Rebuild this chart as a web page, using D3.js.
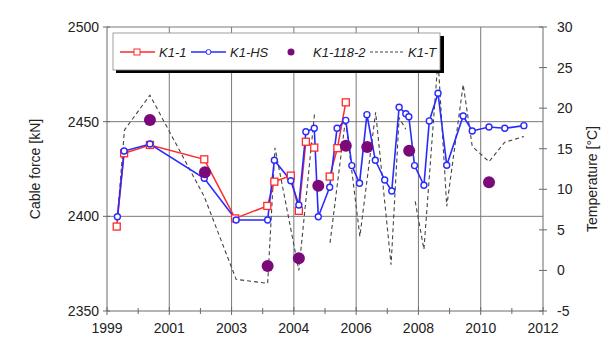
<!DOCTYPE html>
<html lang="en">
<head>
<meta charset="UTF-8" />
<title>Cable force and temperature</title>
<script src="https://d3js.org/d3.v7.min.js"></script>
<style>
  body { margin: 0; background: #fff; font-family: 'Liberation Sans', Arial, sans-serif; }
  svg text { fill: #222; }
</style>
</head>
<body>
<svg width="601" height="340"></svg>
<script>
// x values are decimal years
const xTickLabels = ["1999", "2001", "2003", "2004", "2006", "2008", "2010", "2012"];
const forceTicks = [2350, 2400, 2450, 2500];
const tempTicks = [-5, 0, 5, 10, 15, 20, 25, 30];

const k11Years = [1999.59, 1999.81, 2000.58, 2002.20, 2003.12, 2004.08, 2004.29, 2004.78, 2005.02, 2005.23, 2005.36, 2005.48, 2005.70, 2005.94, 2006.17, 2006.42];
const k11Force = [2394.6, 2433.3, 2437.7, 2430.1, 2398.9, 2405.5, 2418.3, 2421.5, 2402.9, 2439.4, null, 2436.3, null, 2421.0, 2436.0, 2460.2];

const hsYears = [1999.61, 1999.81, 2000.58, 2002.20, 2003.15, 2004.09, 2004.29, 2004.78, 2005.02, 2005.23, 2005.48, 2005.60, 2005.94, 2006.16, 2006.42, 2006.60, 2006.83, 2007.05, 2007.30, 2007.58, 2007.79, 2008.01, 2008.21, 2008.30, 2008.47, 2008.75, 2008.91, 2009.17, 2009.43, 2009.92, 2010.19, 2010.69, 2011.16, 2011.73];
const hsForce = [2399.8, 2434.5, 2438.2, 2420.1, 2398.1, 2398.1, 2429.6, 2418.8, 2406.0, 2444.7, 2446.5, 2399.8, 2415.4, 2446.5, 2450.7, 2426.8, 2417.5, 2453.7, 2429.6, 2419.2, 2413.4, 2457.6, 2454.2, 2452.6, 2426.8, 2416.4, 2450.4, 2465.0, 2427.0, 2453.0, 2445.1, 2447.2, 2446.5, 2447.9];

const k118Years = [2000.58, 2002.22, 2004.09, 2005.02, 2005.60, 2006.42, 2007.06, 2008.31, 2010.69];
const k118Force = [2450.9, 2423.3, 2373.8, 2377.9, 2416.1, 2437.3, 2436.6, 2434.7, 2418.0];

const tYears = [1999.60, 1999.82, 2000.58, 2002.20, 2003.15, 2004.09, 2004.31, 2005.02, 2005.49, 2005.70, 2005.95, 2006.41, 2006.84, 2007.31, 2007.77, 2008.01, 2008.21, 2008.35, 2008.49, 2008.75, 2009.17, 2009.43, 2009.92, 2010.19, 2010.69, 2011.16, 2011.73];
const tTemp = [6.0, 17.3, 21.6, 9.1, -1.1, -1.6, 15.1, 0.0, 19.4, null, 3.4, 18.6, 4.2, 19.5, 0.7, 18.8, 17.4, null, 8.5, 2.6, 26.0, 7.9, 22.9, 15.3, 13.4, 15.8, 16.5];

const svg = d3.select("svg");
const pL = 107, pR = 543, pT = 27, pB = 311;
const x0 = 1999.3, x1 = 2012.3;

const x = d3.scaleLinear().domain([x0, x1]).range([pL, pR]);
const yF = d3.scaleLinear().domain([2350, 2500]).range([pB, pT]);
const yT = d3.scaleLinear().domain([-5, 30]).range([pB, pT]);

const step = (x1 - x0) / (xTickLabels.length - 1);
const majorX = xTickLabels.map((d, i) => x0 + i * step);
const minorX = majorX.slice(1).map(v => v - step / 2);

// grid
const grid = svg.append("g").attr("stroke", "#7a7a7a").attr("stroke-width", 1);
majorX.slice(1, -1).forEach(v => {
  grid.append("line").attr("x1", x(v)).attr("x2", x(v)).attr("y1", pT).attr("y2", pB);
});
[2400, 2450, 2500].forEach(v => {
  grid.append("line").attr("x1", pL).attr("x2", pR).attr("y1", yF(v)).attr("y2", yF(v));
});

// axes
const axisCol = "#6a6a6a";
const ax = svg.append("g").attr("stroke", axisCol).attr("stroke-width", 1);
ax.append("line").attr("x1", pL).attr("x2", pL).attr("y1", pT).attr("y2", pB);
ax.append("line").attr("x1", pR).attr("x2", pR).attr("y1", pT).attr("y2", pB);
ax.append("line").attr("x1", pL).attr("x2", pR).attr("y1", pB).attr("y2", pB);

forceTicks.forEach(v => {
  ax.append("line").attr("x1", pL - 4).attr("x2", pL + 3).attr("y1", yF(v)).attr("y2", yF(v));
  svg.append("text").attr("x", pL - 8).attr("y", yF(v) + 5)
    .attr("text-anchor", "end").attr("font-size", 14).text(v);
});
tempTicks.forEach(v => {
  ax.append("line").attr("x1", pR - 4).attr("x2", pR + 4).attr("y1", yT(v)).attr("y2", yT(v));
  svg.append("text").attr("x", pR + 14).attr("y", yT(v) + 5)
    .attr("text-anchor", "start").attr("font-size", 14).text(v);
});
majorX.forEach((v, i) => {
  ax.append("line").attr("x1", x(v)).attr("x2", x(v)).attr("y1", pB - 4).attr("y2", pB + 4);
  svg.append("text").attr("x", x(v)).attr("y", pB + 22)
    .attr("text-anchor", "middle").attr("font-size", 14).text(xTickLabels[i]);
});
minorX.forEach(v => {
  ax.append("line").attr("x1", x(v)).attr("x2", x(v)).attr("y1", pB - 3).attr("y2", pB + 3);
});

svg.append("text").attr("transform", `translate(40,${(pT + pB) / 2}) rotate(-90)`)
  .attr("text-anchor", "middle").attr("font-size", 14).text("Cable force [kN]");
svg.append("text").attr("transform", `translate(597,${(pT + pB) / 2 + 10}) rotate(-90)`)
  .attr("text-anchor", "middle").attr("font-size", 14).text("Temperature [°C]");

// temperature dashed
const tPts = tYears.map((d, i) => ({ x: d, y: tTemp[i] }));
svg.append("path").datum(tPts)
  .attr("d", d3.line().defined(d => d.y != null).x(d => x(d.x)).y(d => yT(d.y)))
  .attr("fill", "none").attr("stroke", "#444").attr("stroke-width", 1.1).attr("stroke-dasharray", "4,3");

// K1-1 red
const redCol = "#ff2a2a", blueCol = "#2a2aff", purple = "#7a0a7a";
const k11Pts = k11Years.map((d, i) => ({ x: d, y: k11Force[i] }));
svg.append("path").datum(k11Pts)
  .attr("d", d3.line().defined(d => d.y != null).x(d => x(d.x)).y(d => yF(d.y)))
  .attr("fill", "none").attr("stroke", redCol).attr("stroke-width", 1.5);

// K1-HS blue
const hsPts = hsYears.map((d, i) => ({ x: d, y: hsForce[i] }));
svg.append("path").datum(hsPts)
  .attr("d", d3.line().x(d => x(d.x)).y(d => yF(d.y)))
  .attr("fill", "none").attr("stroke", blueCol).attr("stroke-width", 1.6);

svg.selectAll("rect.k11").data(k11Pts.filter(d => d.y != null)).enter().append("rect")
  .attr("x", d => x(d.x) - 3.5).attr("y", d => yF(d.y) - 3.5).attr("width", 7).attr("height", 7)
  .attr("fill", "#fff").attr("stroke", redCol).attr("stroke-width", 1.3);

svg.selectAll("circle.hs").data(hsPts).enter().append("circle")
  .attr("cx", d => x(d.x)).attr("cy", d => yF(d.y)).attr("r", 3)
  .attr("fill", "#fff").attr("stroke", blueCol).attr("stroke-width", 1.4);

svg.selectAll("circle.k118").data(k118Years.map((d, i) => ({ x: d, y: k118Force[i] }))).enter().append("circle")
  .attr("cx", d => x(d.x)).attr("cy", d => yF(d.y)).attr("r", 6)
  .attr("fill", purple);

// legend
const lg = svg.append("g");
lg.append("rect").attr("x", 116).attr("y", 36).attr("width", 328).attr("height", 37).attr("fill", "#000");
lg.append("rect").attr("x", 113).attr("y", 33).attr("width", 327).attr("height", 37)
  .attr("fill", "#fff").attr("stroke", "#888").attr("stroke-width", 0.8);
const ly = 52;
lg.append("line").attr("x1", 120).attr("x2", 155).attr("y1", ly).attr("y2", ly).attr("stroke", redCol).attr("stroke-width", 1.3);
lg.append("rect").attr("x", 134).attr("y", ly - 3).attr("width", 6).attr("height", 6).attr("fill", "#fff").attr("stroke", redCol);
lg.append("line").attr("x1", 191).attr("x2", 226).attr("y1", ly).attr("y2", ly).attr("stroke", blueCol).attr("stroke-width", 1.3);
lg.append("circle").attr("cx", 208.5).attr("cy", ly).attr("r", 2.5).attr("fill", "#fff").attr("stroke", blueCol);
lg.append("circle").attr("cx", 291).attr("cy", ly).attr("r", 3.5).attr("fill", purple);
lg.append("line").attr("x1", 370).attr("x2", 405).attr("y1", ly).attr("y2", ly).attr("stroke", "#444").attr("stroke-dasharray", "3,2");
[["K1-1", 159], ["K1-HS", 230], ["K1-118-2", 313], ["K1-T", 408]].forEach(d => {
  lg.append("text").attr("x", d[1]).attr("y", ly + 5).attr("font-size", 13)
    .attr("font-style", "italic").text(d[0]);
});
</script>
</body>
</html>
